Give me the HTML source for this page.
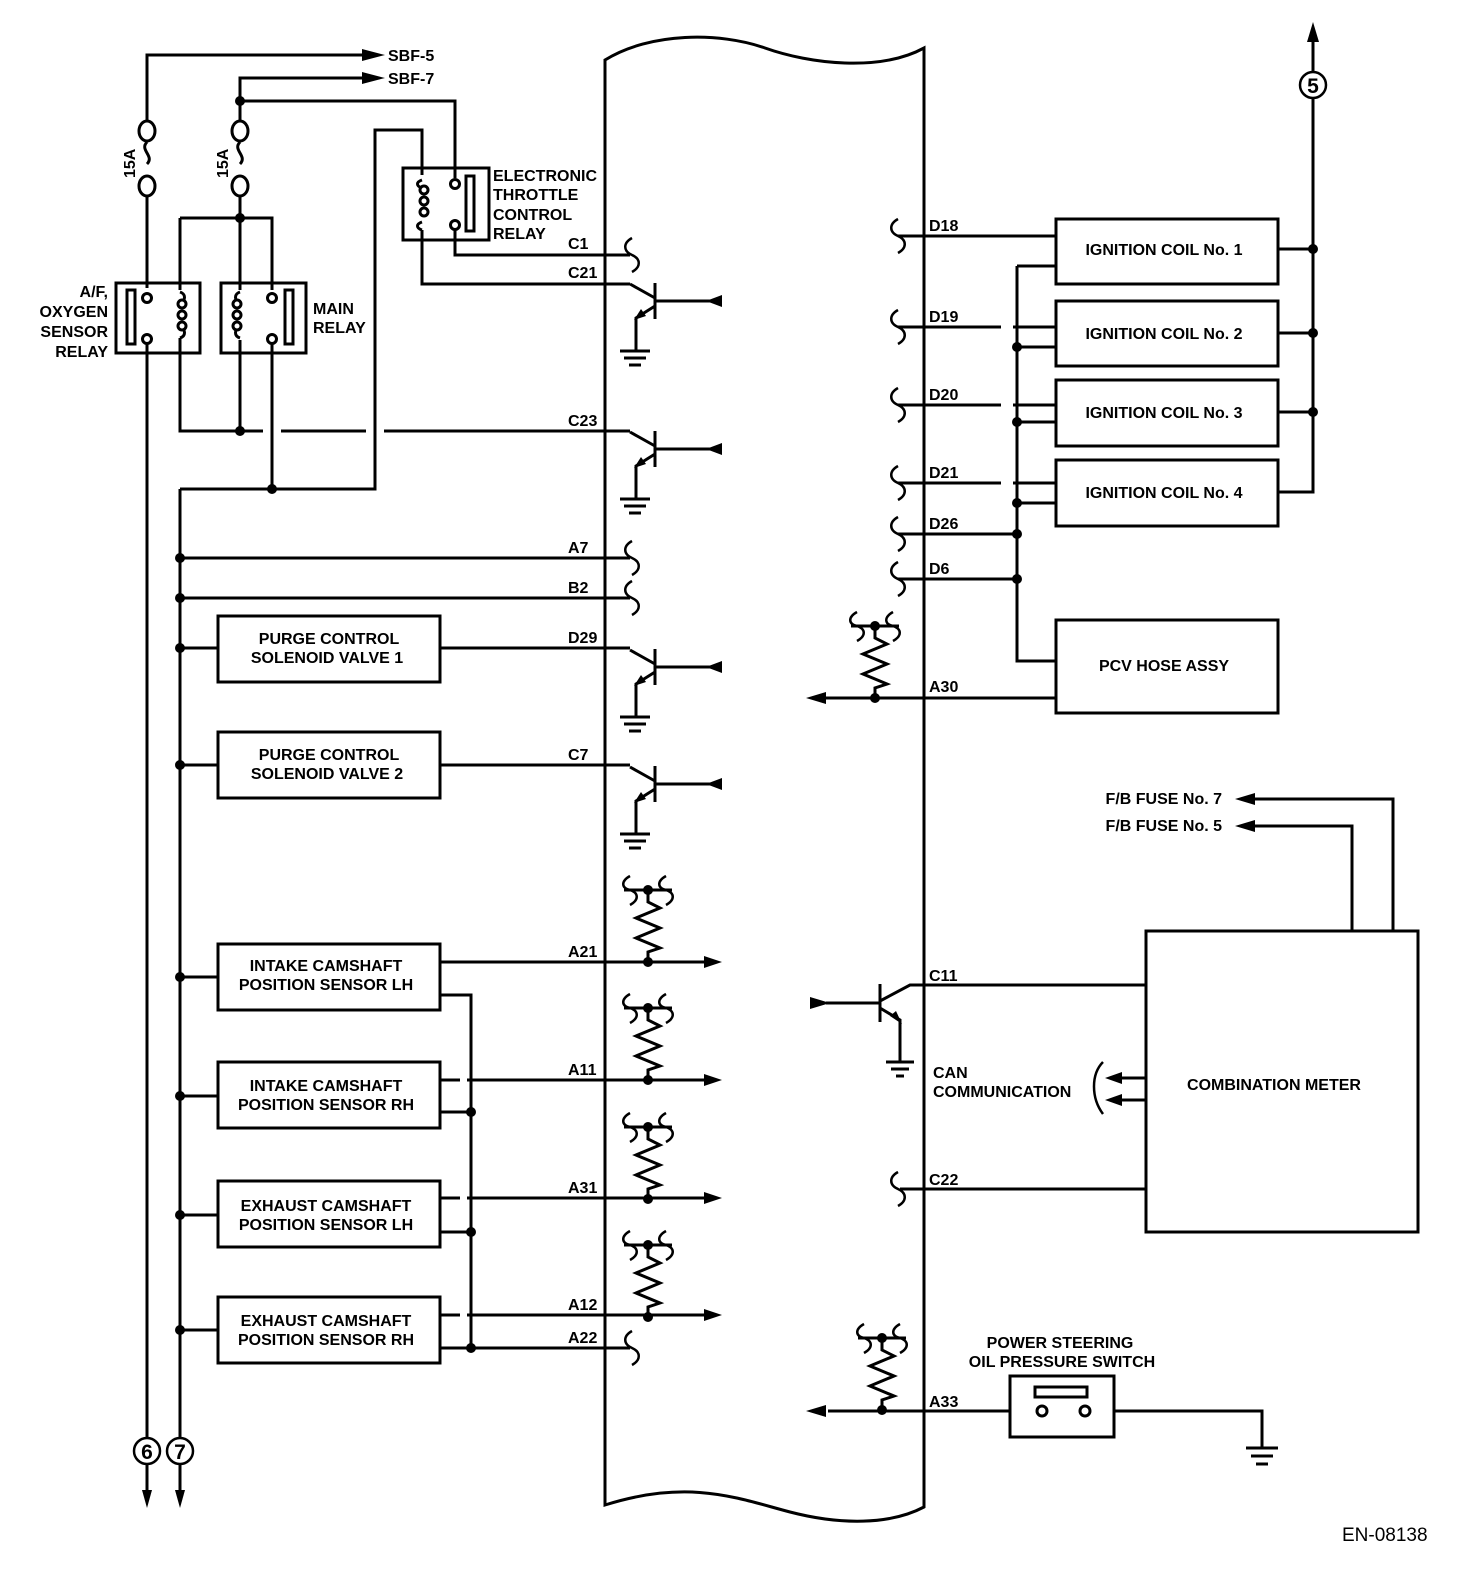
<!DOCTYPE html>
<html><head><meta charset="utf-8"><style>
html,body{margin:0;padding:0;background:#fff}
svg{display:block}
text{font-family:"Liberation Sans",Arial,sans-serif;font-weight:bold;font-size:16px;fill:#000}
</style></head><body>
<svg width="1472" height="1576" viewBox="0 0 1472 1576" xmlns="http://www.w3.org/2000/svg">
<defs>
<g id="tr">
 <path d="M630,-17 L655,-3 M655,-18 V18 M655,5 L636,17 V50 M655,0 H722" stroke="#000" stroke-width="3" fill="none"/>
 <polygon points="634,19 641,8 646,15" fill="#000"/>
 <polygon points="706,0 722,-6 722,6" fill="#000"/>
 <path d="M620,50 H650 M624,57 H646 M629,64 H641" stroke="#000" stroke-width="3"/>
</g>
<g id="res">
 <path d="M624,0 H672" stroke="#000" stroke-width="3"/>
 <path d="M630,-14 c-9,5 -9,12 0,14 c9,3 9,10 0,15 M666,-14 c-9,5 -9,12 0,14 c9,3 9,10 0,15" stroke="#000" stroke-width="2.5" fill="none"/>
 <circle cx="648" cy="0" r="5"/>
 <path d="M648,0 V12 L660,18 L636,28 L660,38 L636,48 L660,58 L648,62 V72" stroke="#000" stroke-width="3" fill="none"/>
 <circle cx="648" cy="72" r="5"/>
</g>
<path id="brk" d="M0,-17 c-9,5 -9,13 0,17 c9,4 9,12 0,17" stroke="#000" stroke-width="2.5" fill="none"/>
</defs>

<path d="M605,60 C650,32 720,32 765,48 S880,72 924,48 V1507 C890,1525 840,1525 790,1512 S690,1478 605,1505 Z" fill="none" stroke="#000" stroke-width="3"/>

<g stroke="#000" stroke-width="3" fill="none">
<path d="M147,130 V55 H370 M240,130 V78 H370 M240,101 H455 V178"/>
</g>
<g stroke="#000" stroke-width="3" fill="#fff">
<ellipse cx="147" cy="131" rx="8" ry="10"/><ellipse cx="147" cy="186" rx="8" ry="10"/>
<ellipse cx="240" cy="131" rx="8" ry="10"/><ellipse cx="240" cy="186" rx="8" ry="10"/>
</g>
<path d="M147,142 c-8,8 8,14 0,22 M240,142 c-8,8 8,14 0,22" stroke="#000" stroke-width="3" fill="none"/>
<polygon points="385,55 362,49 362,61"/><polygon points="385,78 362,72 362,84"/>
<text x="388" y="61">SBF-5</text><text x="388" y="84">SBF-7</text>
<text transform="translate(135,178) rotate(-90)" font-size="15">15A</text>
<text transform="translate(228,178) rotate(-90)" font-size="15">15A</text>

<g stroke="#000" stroke-width="3" fill="none">
<path d="M147,196 V288 M240,196 V290 M180,218 H272 V290 M180,218 V290"/>
<rect x="116" y="283" width="84" height="70"/>
<rect x="221" y="283" width="85" height="70"/>
<rect x="127" y="290" width="8" height="54"/>
<rect x="285" y="290" width="8" height="54"/>
<path d="M147,338 V1452"/>
<path d="M180,338 V431 H630"/>
<path d="M240,340 V431 M180,489 H375 V130 H422 V175"/>
<path d="M180,489 V1452"/>
<path d="M180,292 c6,2 6,8 0,12 M180,338 c6,-2 6,-8 0,-12"/>
<path d="M240,292 c-6,2 -6,8 0,12 M240,338 c-6,-2 -6,-8 0,-12"/>
<rect x="403" y="168" width="86" height="72"/>
<rect x="466" y="176" width="8" height="55"/>
<path d="M422,180 c-6,2 -6,6 0,8 M422,230 c-6,-2 -6,-6 0,-8 M422,230 V284 H630"/>
<path d="M455,230 V255 H630"/>
</g>
<!-- gaps on C23 line -->
<rect x="263" y="425" width="18" height="12" fill="#fff"/>
<rect x="366" y="425" width="18" height="12" fill="#fff"/>
<path d="M272,340 V489 M375,489 V130" stroke="#000" stroke-width="3" fill="none"/>
<g stroke="#000" stroke-width="3" fill="#fff">
<circle cx="182" cy="304" r="4"/><circle cx="182" cy="315" r="4"/><circle cx="182" cy="326" r="4"/>
<circle cx="237" cy="304" r="4"/><circle cx="237" cy="315" r="4"/><circle cx="237" cy="326" r="4"/>
<circle cx="424" cy="190" r="4"/><circle cx="424" cy="201" r="4"/><circle cx="424" cy="212" r="4"/>
<circle cx="147" cy="298" r="4.5"/><circle cx="147" cy="339" r="4.5"/>
<circle cx="272" cy="298" r="4.5"/><circle cx="272" cy="339" r="4.5"/>
<circle cx="455" cy="184" r="4.5"/><circle cx="455" cy="225" r="4.5"/>
</g>
<g>
<circle cx="240" cy="101" r="5"/><circle cx="240" cy="218" r="5"/><circle cx="240" cy="431" r="5"/><circle cx="272" cy="489" r="5"/>
</g>

<text x="108" y="297" text-anchor="end">A/F,</text>
<text x="108" y="317" text-anchor="end">OXYGEN</text>
<text x="108" y="337" text-anchor="end">SENSOR</text>
<text x="108" y="357" text-anchor="end">RELAY</text>
<text x="313" y="314">MAIN</text><text x="313" y="333">RELAY</text>
<text x="493" y="181">ELECTRONIC</text><text x="493" y="200">THROTTLE</text>
<text x="493" y="220">CONTROL</text><text x="493" y="239">RELAY</text>

<use href="#tr" y="301"/><use href="#tr" y="449"/><use href="#tr" y="667"/><use href="#tr" y="784"/>
<use href="#brk" x="632" y="255"/>
<text x="568" y="249">C1</text><text x="568" y="278">C21</text><text x="568" y="426">C23</text>

<g stroke="#000" stroke-width="3" fill="none">
<path d="M180,558 H630 M180,598 H630"/>
<path d="M180,648 H218 M440,648 H630 M180,765 H218 M440,765 H630"/>
<rect x="218" y="616" width="222" height="66"/><rect x="218" y="732" width="222" height="66"/>
</g>
<use href="#brk" x="632" y="558"/><use href="#brk" x="632" y="598"/>
<text x="568" y="553">A7</text><text x="568" y="593">B2</text>
<text x="568" y="643">D29</text><text x="568" y="760">C7</text>
<text x="329" y="644" text-anchor="middle">PURGE CONTROL</text><text x="327" y="663" text-anchor="middle">SOLENOID VALVE 1</text>
<text x="329" y="760" text-anchor="middle">PURGE CONTROL</text><text x="327" y="779" text-anchor="middle">SOLENOID VALVE 2</text>
<g><circle cx="180" cy="558" r="5"/><circle cx="180" cy="598" r="5"/><circle cx="180" cy="648" r="5"/><circle cx="180" cy="765" r="5"/>
<circle cx="180" cy="977" r="5"/><circle cx="180" cy="1096" r="5"/><circle cx="180" cy="1215" r="5"/><circle cx="180" cy="1330" r="5"/></g>

<g stroke="#000" stroke-width="3" fill="none">
<rect x="218" y="944" width="222" height="66"/><rect x="218" y="1062" width="222" height="66"/>
<rect x="218" y="1181" width="222" height="66"/><rect x="218" y="1297" width="222" height="66"/>
<path d="M180,977 H218 M180,1096 H218 M180,1215 H218 M180,1330 H218"/>
<path d="M440,962 H708 M440,1080 H708 M440,1198 H708 M440,1315 H708 M440,1348 H630"/>
<path d="M440,995 H471 V1348 M440,1112 H471 M440,1232 H471"/>
</g>
<g fill="#fff"><rect x="460" y="1074" width="7" height="12"/><rect x="460" y="1192" width="7" height="12"/><rect x="460" y="1309" width="7" height="12"/></g>
<polygon points="722,962 704,956 704,968"/><polygon points="722,1080 704,1074 704,1086"/>
<polygon points="722,1198 704,1192 704,1204"/><polygon points="722,1315 704,1309 704,1321"/>
<g><circle cx="471" cy="1112" r="5"/><circle cx="471" cy="1232" r="5"/><circle cx="471" cy="1348" r="5"/></g>
<use href="#brk" x="632" y="1348"/>
<use href="#res" y="890"/><use href="#res" y="1008"/><use href="#res" y="1127"/><use href="#res" y="1245"/>
<text x="568" y="957">A21</text><text x="568" y="1075">A11</text><text x="568" y="1193">A31</text>
<text x="568" y="1310">A12</text><text x="568" y="1343">A22</text>
<text x="326" y="971" text-anchor="middle">INTAKE CAMSHAFT</text><text x="326" y="990" text-anchor="middle">POSITION SENSOR LH</text>
<text x="326" y="1091" text-anchor="middle">INTAKE CAMSHAFT</text><text x="326" y="1110" text-anchor="middle">POSITION SENSOR RH</text>
<text x="326" y="1211" text-anchor="middle">EXHAUST CAMSHAFT</text><text x="326" y="1230" text-anchor="middle">POSITION SENSOR LH</text>
<text x="326" y="1326" text-anchor="middle">EXHAUST CAMSHAFT</text><text x="326" y="1345" text-anchor="middle">POSITION SENSOR RH</text>

<g stroke="#000" stroke-width="2.5" fill="#fff"><circle cx="147" cy="1451" r="13"/><circle cx="180" cy="1451" r="13"/></g>
<text x="147" y="1459" text-anchor="middle" style="font-size:21px">6</text><text x="180" y="1459" text-anchor="middle" style="font-size:21px">7</text>
<path d="M147,1464 V1495 M180,1464 V1495" stroke="#000" stroke-width="3"/>
<polygon points="147,1508 142,1490 152,1490"/><polygon points="180,1508 175,1490 185,1490"/>

<g stroke="#000" stroke-width="3" fill="none">
<rect x="1056" y="219" width="222" height="65"/><rect x="1056" y="301" width="222" height="65"/>
<rect x="1056" y="380" width="222" height="66"/><rect x="1056" y="460" width="222" height="66"/>
<rect x="1056" y="620" width="222" height="93"/>
<path d="M898,236 H1056 M898,327 H1056 M898,405 H1056 M898,483 H1056 M898,534 H1017 M898,579 H1017"/>
<path d="M1017,266 H1056 M1017,266 V661 H1056 M1017,347 H1056 M1017,422 H1056 M1017,503 H1056"/>
<path d="M1278,249 H1313 M1278,333 H1313 M1278,412 H1313 M1278,492 H1313 V35"/>
<path d="M1056,698 H825"/>
</g>
<g fill="#fff"><rect x="1001" y="321" width="12" height="12"/><rect x="1001" y="399" width="12" height="12"/><rect x="1001" y="477" width="12" height="12"/></g>
<polygon points="1313,22 1307,42 1319,42"/>
<g stroke="#000" stroke-width="2.5" fill="#fff"><circle cx="1313" cy="85" r="13"/></g>
<text x="1313" y="93" text-anchor="middle" style="font-size:21px">5</text>
<g><circle cx="1313" cy="249" r="5"/><circle cx="1313" cy="333" r="5"/><circle cx="1313" cy="412" r="5"/>
<circle cx="1017" cy="347" r="5"/><circle cx="1017" cy="422" r="5"/><circle cx="1017" cy="503" r="5"/><circle cx="1017" cy="534" r="5"/><circle cx="1017" cy="579" r="5"/></g>
<use href="#brk" x="898" y="236"/><use href="#brk" x="898" y="327"/><use href="#brk" x="898" y="405"/>
<use href="#brk" x="898" y="483"/><use href="#brk" x="898" y="534"/><use href="#brk" x="898" y="579"/>
<text x="929" y="231">D18</text><text x="929" y="322">D19</text><text x="929" y="400">D20</text>
<text x="929" y="478">D21</text><text x="929" y="529">D26</text><text x="929" y="574">D6</text><text x="929" y="692">A30</text>
<text x="1164" y="255" text-anchor="middle">IGNITION COIL No. 1</text>
<text x="1164" y="339" text-anchor="middle">IGNITION COIL No. 2</text>
<text x="1164" y="418" text-anchor="middle">IGNITION COIL No. 3</text>
<text x="1164" y="498" text-anchor="middle">IGNITION COIL No. 4</text>
<text x="1164" y="671" text-anchor="middle">PCV HOSE ASSY</text>
<g transform="translate(227,-264)"><use href="#res" y="890"/></g>
<polygon points="806,698 826,692 826,704"/>

<g stroke="#000" stroke-width="3" fill="none">
<rect x="1146" y="931" width="272" height="301"/>
<path d="M1393,931 V799 H1250 M1352,931 V826 H1250"/>
<path d="M924,985 H1146 M900,1189 H1146"/>
<path d="M1146,1078 H1115 M1146,1100 H1115"/>
<path d="M1103,1062 c-12,12 -12,36 0,52" stroke-width="2.5"/>
<path d="M924,985 H910 L880,1001 M880,984 V1022 M880,1008 L900,1020 V1062 M826,1003 H880"/>
<path d="M886,1062 H914 M891,1069 H909 M896,1076 H904"/>
<path d="M1115,1411 H1262 V1448 M1246,1448 H1278 M1251,1456 H1273 M1256,1464 H1268"/>
<path d="M1010,1411 H828"/>
<rect x="1010" y="1376" width="104" height="61"/>
<rect x="1035" y="1387" width="52" height="10"/>
</g>
<polygon points="1235,799 1255,793 1255,805"/><polygon points="1235,826 1255,820 1255,832"/>
<polygon points="1105,1078 1122,1072 1122,1084"/><polygon points="1105,1100 1122,1094 1122,1106"/>
<polygon points="830,1003 810,997 810,1009"/><polygon points="902,1024 890,1016 896,1011"/>
<polygon points="806,1411 826,1405 826,1417"/>
<use href="#brk" x="898" y="1189"/>
<g stroke="#000" stroke-width="3" fill="#fff"><circle cx="1042" cy="1411" r="5"/><circle cx="1085" cy="1411" r="5"/></g>
<g transform="translate(234,448)"><use href="#res" y="890"/></g>
<text x="1222" y="804" text-anchor="end">F/B FUSE No. 7</text>
<text x="1222" y="831" text-anchor="end">F/B FUSE No. 5</text>
<text x="929" y="981">C11</text><text x="929" y="1185">C22</text><text x="929" y="1407">A33</text>
<text x="933" y="1078">CAN</text><text x="933" y="1097">COMMUNICATION</text>
<text x="1274" y="1090" text-anchor="middle">COMBINATION METER</text>
<text x="1060" y="1348" text-anchor="middle">POWER STEERING</text>
<text x="1062" y="1367" text-anchor="middle">OIL PRESSURE SWITCH</text>
<text x="1342" y="1541" style="font-weight:normal;font-size:19px">EN-08138</text>
</svg>
</body></html>
